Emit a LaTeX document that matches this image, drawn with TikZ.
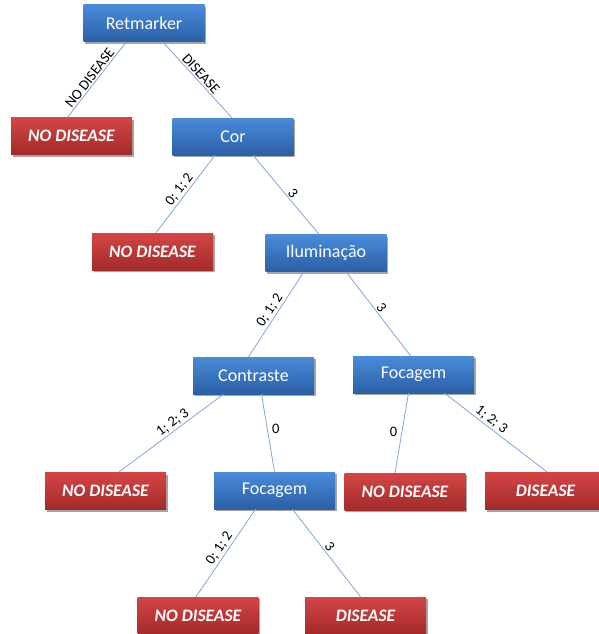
\documentclass[tikz,border=0pt]{standalone}
\usepackage{fontspec}
\setmainfont{Carlito}
\usetikzlibrary{shadows}

\definecolor{attrtop}{HTML}{4A8BDA}
\definecolor{attrbot}{HTML}{2B5FA6}
\definecolor{leaftop}{HTML}{D44545}
\definecolor{leafbot}{HTML}{A32A2A}
\definecolor{edgeblue}{HTML}{7FA6D6}

\begin{document}
\begin{tikzpicture}[x=1pt, y=-1pt,
    box/.style={rectangle, minimum width=121pt, minimum height=37pt,
        inner sep=0pt, text=white, font=\fontsize{18}{20}\selectfont,
        drop shadow={shadow xshift=1.5pt, shadow yshift=-2pt,
            opacity=0.35, fill=black}},
    attr/.style={box, top color=attrtop, bottom color=attrbot},
    leaf/.style={box, top color=leaftop, bottom color=leafbot,
        font=\fontsize{17.5}{20}\selectfont\bfseries\itshape},
    edge/.style={draw=edgeblue, line width=0.8pt},
    lbl/.style={font=\fontsize{14.5}{16}\selectfont, inner sep=1.5pt},
    tilt/.style={lbl, sloped, above}
]
    \useasboundingbox (0,0) rectangle (598,634);

    \node[attr] (ret)  at (144,23.5)  {Retmarker};
    \node[leaf] (nd1)  at (71.5,136)  {NO DISEASE};
    \node[attr] (cor)  at (233,136.5) {Cor};
    \node[leaf] (nd2)  at (152.5,251.5) {NO DISEASE};
    \node[attr] (ilum) at (326,253)   {Iluminação};
    \node[attr] (con)  at (253.5,375.5) {Contraste};
    \node[attr] (foca) at (413.5,374.5) {Focagem};
    \node[leaf] (nd3)  at (105.5,491) {NO DISEASE};
    \node[attr] (focb) at (274.5,490.5) {Focagem};
    \node[leaf] (nd4)  at (405,491.5) {NO DISEASE};
    \node[leaf] (dis1) at (545.5,491) {DISEASE};
    \node[leaf] (nd5)  at (198,615.5) {NO DISEASE};
    \node[leaf] (dis2) at (365.5,615.5) {DISEASE};

    % branches, from the bottom of a test to the top of its child
    \draw[edge] ([xshift=-18pt]ret.south) -- node[tilt, pos=0.53] {NO DISEASE} ([xshift=-4pt]nd1.north);
    \draw[edge] ([xshift=19pt]ret.south) -- node[tilt, pos=0.48] {DISEASE} ([xshift=-1pt]cor.north);
    \draw[edge] ([xshift=-18pt]cor.south) -- node[tilt] {0; 1; 2} ([xshift=3.5pt]nd2.north);
    \draw[edge] ([xshift=20pt]cor.south) -- node[tilt, pos=0.53] {3} ([xshift=-7pt]ilum.north);
    \draw[edge] ([xshift=-22pt]ilum.south) -- node[tilt] {0; 1; 2} ([xshift=-5pt]con.north);
    \draw[edge] ([xshift=20pt]ilum.south) -- node[tilt, pos=0.47] {3} ([xshift=-3pt]foca.north);
    \draw[edge] ([xshift=-30pt]con.south) -- node[tilt, pos=0.44] {1; 2; 3} ([xshift=13pt]nd3.north);
    \draw[edge] ([xshift=8pt]con.south) -- node[lbl, right=3pt, pos=0.44] {0} (focb.north);
    \draw[edge] ([xshift=-5pt]foca.south) -- node[lbl, left=3pt, pos=0.48] {0} ([xshift=-10pt]nd4.north);
    \draw[edge] ([xshift=31pt]foca.south) -- node[tilt, pos=0.41] {1; 2; 3} ([xshift=2pt]dis1.north);
    \draw[edge] ([xshift=-19pt]focb.south) -- node[tilt] {0; 1; 2} ([xshift=-2pt]nd5.north);
    \draw[edge] ([xshift=18pt]focb.south) -- node[tilt, pos=0.47] {3} ([xshift=-5pt]dis2.north);
\end{tikzpicture}
\end{document}
